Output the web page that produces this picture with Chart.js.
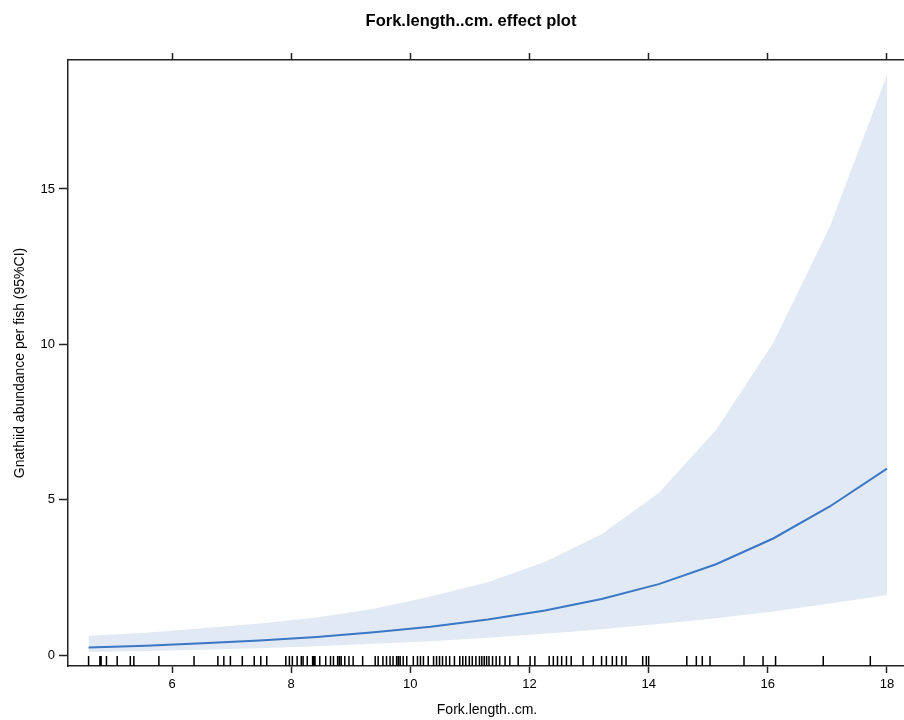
<!DOCTYPE html>
<html>
<head>
<meta charset="utf-8">
<script src="https://cdn.jsdelivr.net/npm/chart.js@4"></script>
<style>
  html, body { margin: 0; padding: 0; background: #fff; overflow: hidden; }
  #wrap { width: 910px; height: 720px; position: relative; }
</style>
</head>
<body>
<div id="wrap"><canvas id="effect"></canvas></div>
<script>
// fork length grid where the effect was evaluated
var forkLength = [4.6, 5.56, 6.51, 7.47, 8.43, 9.39, 10.34, 11.3, 12.26, 13.21, 14.17, 15.13, 16.09, 17.04, 18];
var fitted = [0.24, 0.30, 0.38, 0.47, 0.58, 0.73, 0.91, 1.14, 1.43, 1.80, 2.28, 2.92, 3.75, 4.78, 6.00];
var upperCI = [0.62, 0.72, 0.86, 1.01, 1.21, 1.49, 1.88, 2.34, 3.00, 3.89, 5.21, 7.24, 10.04, 13.78, 18.67];
var lowerCI = [0.10, 0.125, 0.17, 0.22, 0.28, 0.36, 0.44, 0.555, 0.68, 0.83, 1.00, 1.18, 1.40, 1.66, 1.93];

// observed fork lengths (rug)
var rugValues = [4.6, 4.79, 4.81, 4.90, 5.08, 5.30, 5.36, 5.78, 6.37, 6.77, 6.87, 6.98, 7.18, 7.38, 7.49, 7.59,
  7.91, 7.97, 8.02, 8.10, 8.17, 8.20, 8.27, 8.36, 8.38, 8.40, 8.48, 8.58, 8.66, 8.71, 8.78, 8.81, 8.84, 8.90,
  8.97, 9.04, 9.20, 9.41, 9.46, 9.54, 9.60, 9.66, 9.71, 9.77, 9.80, 9.83, 9.88, 9.94, 10.05, 10.12, 10.17,
  10.22, 10.30, 10.39, 10.44, 10.49, 10.54, 10.60, 10.66, 10.74, 10.83, 10.88, 10.93, 10.99, 11.04, 11.10,
  11.16, 11.20, 11.24, 11.28, 11.32, 11.38, 11.44, 11.50, 11.59, 11.67, 11.81, 12.01, 12.09, 12.33, 12.40,
  12.47, 12.54, 12.62, 12.70, 12.90, 13.07, 13.21, 13.29, 13.39, 13.46, 13.55, 13.62, 13.90, 13.96, 14.00,
  14.64, 14.80, 14.90, 15.03, 15.60, 15.92, 16.13, 16.93, 17.72];

var xTicks = [6, 8, 10, 12, 14, 16, 18];
var yTicks = [0, 5, 10, 15];

var mainTitle = 'Fork.length..cm. effect plot';
var xTitle = 'Fork.length..cm.';
var yTitle = 'Gnathiid abundance per fish (95%CI)';

function pts(ys) {
  return forkLength.map(function (x, i) { return {x: x, y: ys[i]}; });
}

var axisColor = '#222';
var fontFam = 'Arial, "Liberation Sans", sans-serif';

var rugPlugin = {
  id: 'rug',
  afterDatasetsDraw: function (chart) {
    var ctx = chart.ctx, xs = chart.scales.x, area = chart.chartArea;
    ctx.save();
    ctx.strokeStyle = '#000';
    ctx.lineWidth = 1.5;
    ctx.beginPath();
    for (var i = 0; i < rugValues.length; i++) {
      var px = xs.getPixelForValue(rugValues[i]);
      ctx.moveTo(px, area.bottom);
      ctx.lineTo(px, area.bottom - 10);
    }
    ctx.stroke();
    ctx.restore();
  }
};

var titlePlugin = {
  id: 'mainTitle',
  afterDraw: function (chart) {
    var ctx = chart.ctx;
    ctx.save();
    ctx.fillStyle = '#000';
    ctx.font = 'bold 16.5px ' + fontFam;
    ctx.textAlign = 'center';
    ctx.textBaseline = 'middle';
    ctx.fillText(mainTitle, 471, 21);
    ctx.restore();
  }
};

function setTicks(list) {
  return function (scale) {
    scale.ticks = list.map(function (v) { return {value: v}; });
  };
}

new Chart(document.getElementById('effect'), {
  type: 'line',
  data: {
    datasets: [{
      label: 'fit',
      data: pts(fitted),
      borderColor: '#3a77c4',
      borderWidth: 2,
      pointRadius: 0,
      tension: 0,
      fill: false
    }, {
      label: 'upper',
      data: pts(upperCI),
      borderWidth: 0,
      borderColor: 'rgba(0,0,0,0)',
      backgroundColor: '#e1e9f4',
      pointRadius: 0,
      tension: 0,
      fill: '+1'
    }, {
      label: 'lower',
      data: pts(lowerCI),
      borderWidth: 0,
      borderColor: 'rgba(0,0,0,0)',
      pointRadius: 0,
      tension: 0,
      fill: false
    }]
  },
  options: {
    responsive: true,
    maintainAspectRatio: false,
    animation: false,
    layout: { padding: { left: 0, right: 4, top: 0, bottom: 0 } },
    plugins: {
      legend: { display: false },
      tooltip: { enabled: false }
    },
    scales: {
      x: {
        type: 'linear',
        position: 'bottom',
        min: 4.2545,
        max: 18.319,
        afterBuildTicks: setTicks(xTicks),
        afterFit: function (s) { s.height = 54; },
        grid: { drawOnChartArea: false, drawTicks: true, tickLength: 7, tickWidth: 1.5, tickColor: axisColor },
        border: { display: true, color: axisColor, width: 1.5 },
        ticks: { color: '#000', font: { family: fontFam, size: 13 }, padding: 4, maxRotation: 0 },
        title: { display: true, text: xTitle, color: '#000', font: { family: fontFam, size: 14 }, padding: { top: 2, bottom: 1 } }
      },
      xTop: {
        type: 'linear',
        position: 'top',
        min: 4.2545,
        max: 18.319,
        afterBuildTicks: setTicks(xTicks),
        afterFit: function (s) { s.height = 60; },
        grid: { drawOnChartArea: false, drawTicks: true, tickLength: 7, tickWidth: 1.5, tickColor: axisColor },
        border: { display: true, color: axisColor, width: 1.5 },
        ticks: { callback: function () { return ''; } }
      },
      y: {
        type: 'linear',
        position: 'left',
        min: -0.354,
        max: 19.15,
        afterBuildTicks: setTicks(yTicks),
        afterFit: function (s) { s.width = 68; },
        grid: { drawOnChartArea: false, drawTicks: true, tickLength: 9, tickWidth: 1.5, tickColor: axisColor },
        border: { display: true, color: axisColor, width: 1.5 },
        ticks: { color: '#000', font: { family: fontFam, size: 13 }, padding: 4 },
        title: { display: true, text: yTitle, color: '#000', font: { family: fontFam, size: 14 }, padding: { top: 12, bottom: 0 } }
      }
    }
  },
  plugins: [rugPlugin, titlePlugin]
});
</script>
</body>
</html>
